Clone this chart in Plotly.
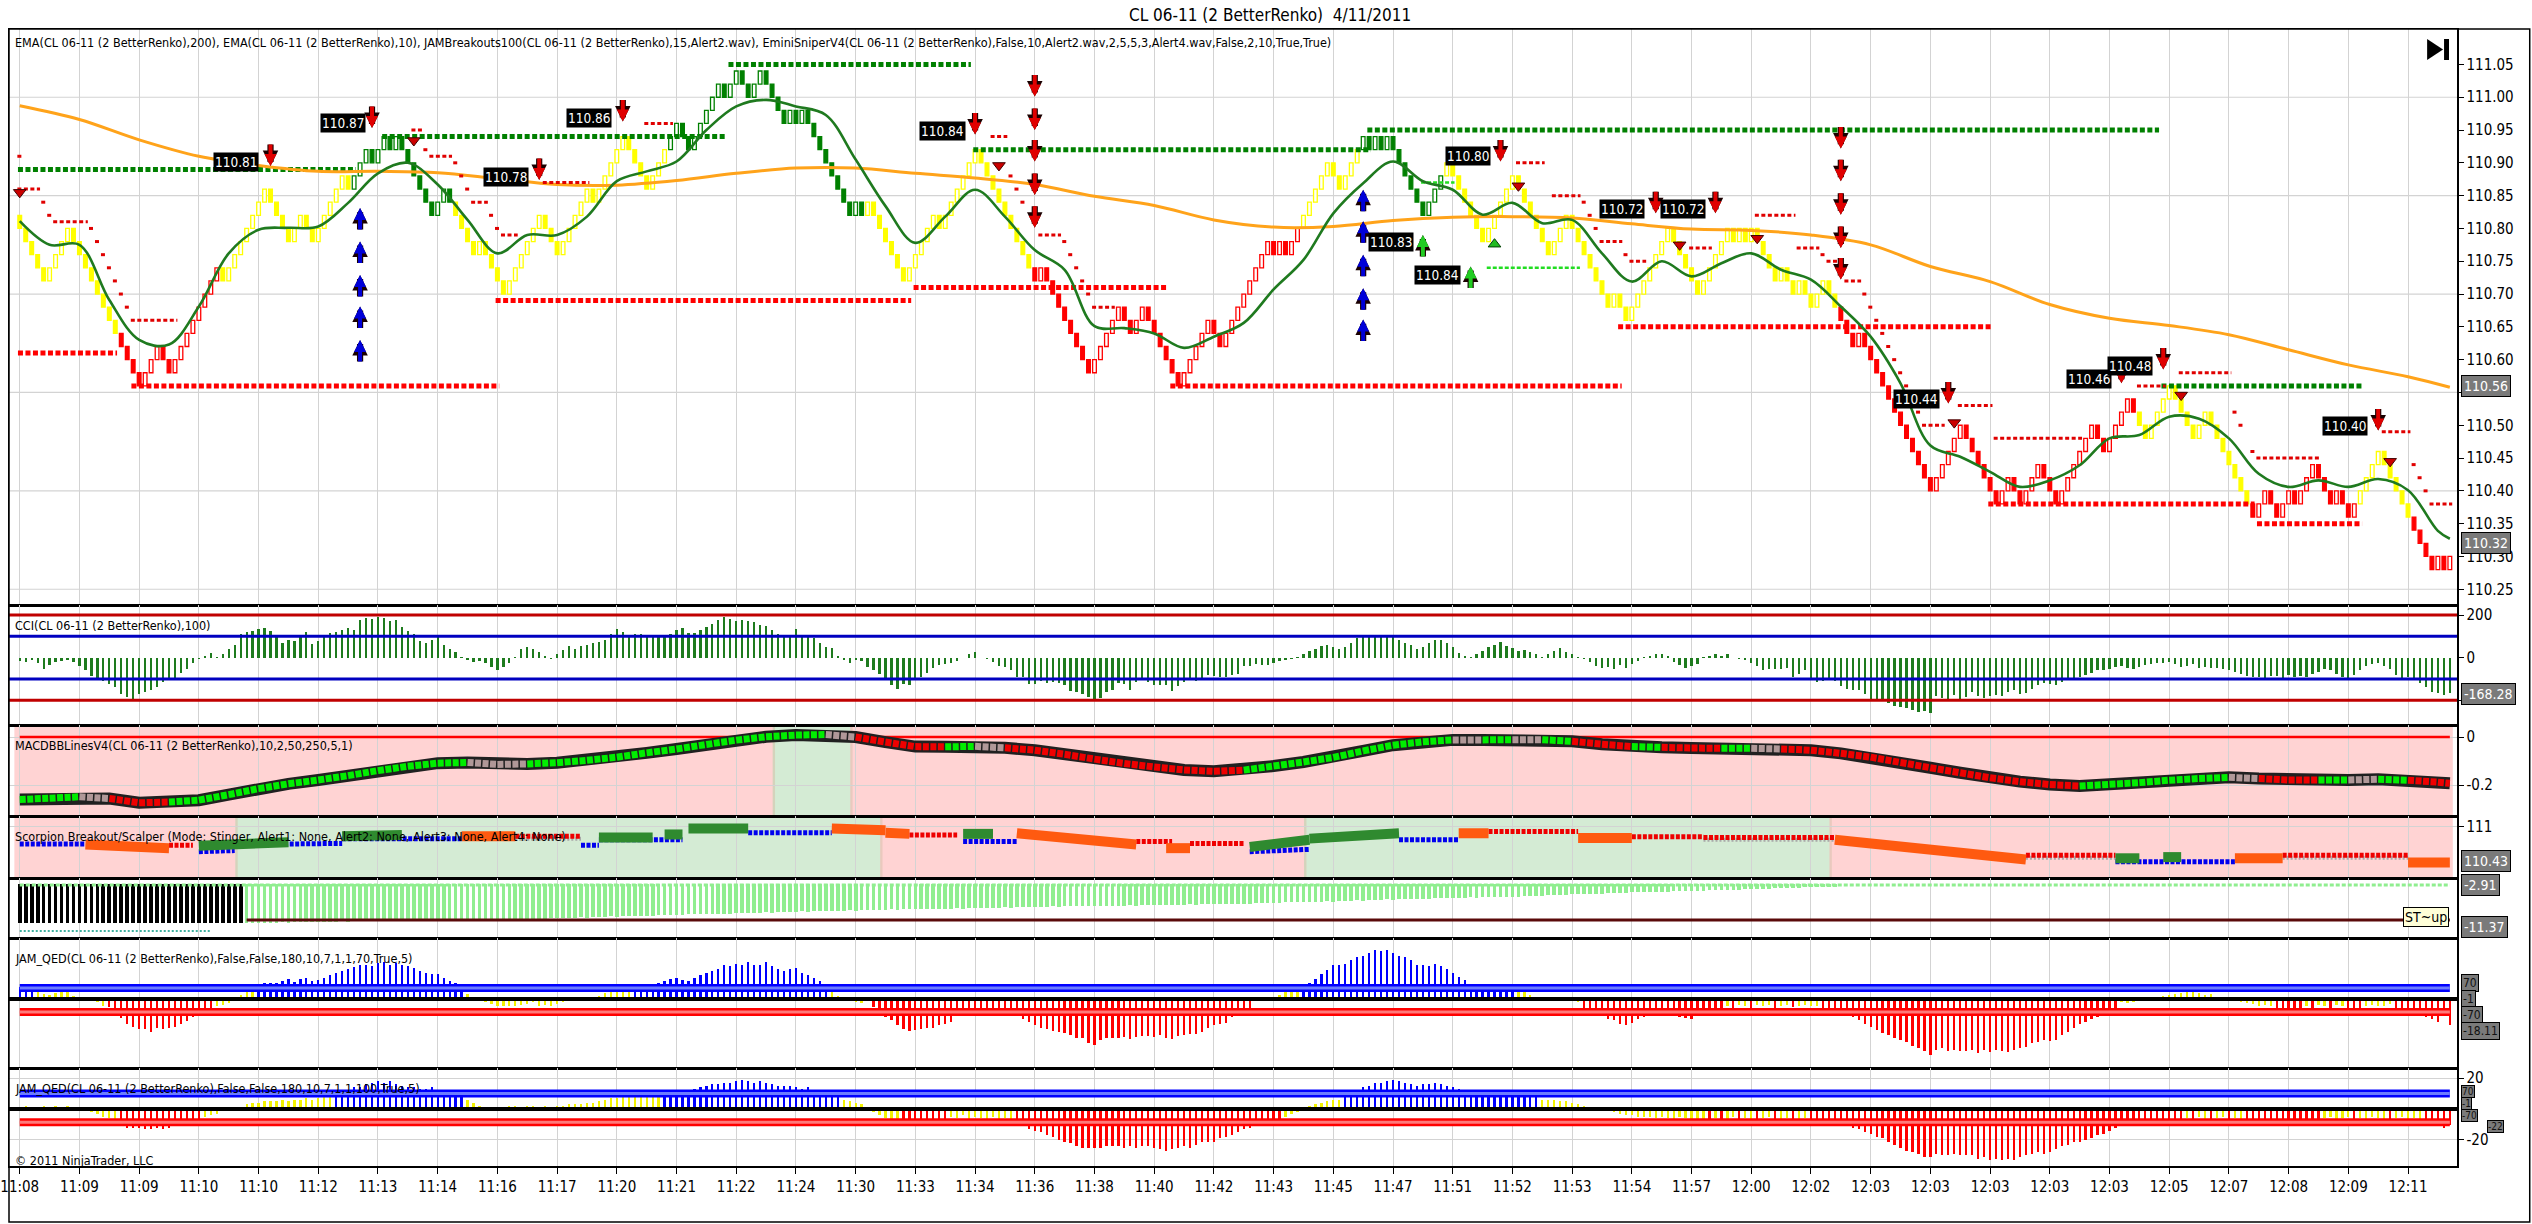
import numpy as np
import plotly.graph_objects as go

# ------------------------------------------------------------------ data
TITLE = "CL 06-11 (2 BetterRenko)  4/11/2011"
PRICE_LEGEND = ("EMA(CL 06-11 (2 BetterRenko),200), EMA(CL 06-11 (2 BetterRenko),10), "
                "JAMBreakouts100(CL 06-11 (2 BetterRenko),15,Alert2.wav), "
                "EminiSniperV4(CL 06-11 (2 BetterRenko),False,10,Alert2.wav,2,5,5,3,Alert4.wav,False,2,10,True,True)")
CCI_LABEL = "CCI(CL 06-11 (2 BetterRenko),100)"
MACD_LABEL = "MACDBBLinesV4(CL 06-11 (2 BetterRenko),10,2,50,250,5,1)"
SCORP_LABEL = "Scorpion Breakout/Scalper (Mode: Stinger, Alert1: None, Alert2: None, Alert3: None, Alert4: None)"
QED1_LABEL = "JAM_QED(CL 06-11 (2 BetterRenko),False,False,180,10,7,1,1,70,True,5)"
QED2_LABEL = "JAM_QED(CL 06-11 (2 BetterRenko),False,False,180,10,7,1,1,100,True,5)"
COPYRIGHT = "© 2011 NinjaTrader, LLC"

# one label every 10 bars, first one on bar 1
TICK_LABELS = ["11:08", "11:09", "11:09", "11:10", "11:10", "11:12", "11:13", "11:14", "11:16", "11:17",
               "11:20", "11:21", "11:22", "11:24", "11:30", "11:33", "11:34", "11:36", "11:38", "11:40",
               "11:42", "11:43", "11:45", "11:47", "11:51", "11:52", "11:53", "11:54", "11:57", "12:00",
               "12:02", "12:03", "12:03", "12:03", "12:03", "12:03", "12:05", "12:07", "12:08", "12:09",
               "12:11"]

# renko closes, cents above 110.00 (2-tick bricks)
OPEN0_CENTS = 82
CLOSE_CENTS = [
    80, 78, 76, 74, 72, 74, 76, 78, 80, 78,
    76, 74, 72, 70, 68, 66, 64, 62, 60, 58,
    56, 58, 60, 62, 60, 58, 60, 62, 64, 66,
    68, 70, 72, 74, 72, 74, 76, 78, 80, 82,
    84, 86, 84, 82, 80, 78, 80, 82, 80, 78,
    80, 82, 84, 86, 88, 86, 88, 90, 92, 90,
    92, 94, 92, 94, 92, 90, 88, 86, 84, 82,
    84, 86, 84, 82, 80, 78, 76, 78, 76, 74,
    72, 70, 72, 74, 76, 78, 80, 82, 80, 78,
    76, 78, 80, 82, 84, 86, 84, 86, 88, 90,
    92, 94, 92, 90, 88, 86, 88, 90, 92, 94,
    96, 94, 92, 94, 96, 98, 100, 102, 100, 102,
    104, 102, 100, 102, 104, 102, 100, 98, 96, 98,
    96, 98, 96, 94, 92, 90, 88, 86, 84, 82,
    84, 82, 84, 82, 80, 78, 76, 74, 72, 74,
    76, 78, 80, 82, 80, 82, 84, 86, 88, 90,
    92, 90, 88, 86, 84, 82, 80, 78, 76, 74,
    72, 74, 72, 70, 68, 66, 64, 62, 60, 58,
    60, 62, 64, 66, 68, 66, 64, 66, 68, 66,
    64, 62, 60, 58, 56, 58, 60, 62, 64, 66,
    64, 62, 64, 66, 68, 70, 72, 74, 76, 78,
    76, 78, 76, 78, 80, 82, 84, 86, 88, 90,
    88, 86, 88, 90, 92, 94, 92, 94, 92, 94,
    92, 90, 88, 86, 84, 82, 84, 86, 88, 90,
    88, 86, 84, 82, 80, 78, 80, 82, 84, 86,
    88, 86, 84, 82, 80, 78, 76, 78, 80, 82,
    80, 78, 76, 74, 72, 70, 68, 70, 68, 66,
    68, 70, 72, 74, 76, 78, 80, 78, 76, 74,
    72, 70, 72, 74, 76, 78, 80, 78, 80, 78,
    80, 78, 76, 74, 72, 74, 72, 70, 72, 70,
    68, 70, 72, 70, 68, 66, 64, 62, 64, 62,
    60, 58, 56, 54, 52, 50, 48, 46, 44, 42,
    40, 42, 44, 46, 48, 50, 48, 46, 44, 42,
    40, 38, 40, 42, 40, 38, 40, 42, 44, 42,
    40, 38, 40, 42, 44, 46, 48, 50, 48, 46,
    48, 50, 52, 54, 52, 50, 48, 50, 52, 54,
    56, 54, 52, 50, 48, 50, 52, 50, 48, 46,
    44, 42, 40, 38, 36, 38, 40, 38, 36, 38,
    40, 38, 40, 42, 44, 42, 40, 38, 40, 38,
    36, 38, 40, 42, 44, 46, 44, 42, 40, 38,
    36, 34, 32, 30, 28, 30, 28, 30,
]
# EminiSniper bar colouring: state starts at these bars
BAR_STATE_START = [1, 18, 35, 57, 74, 110, 143, 171, 216, 226, 240, 306, 356, 375, 393, 402]
BAR_STATE = ["y", "r", "y", "g", "y", "g", "y", "r", "y", "g", "y", "r", "y", "r", "y", "r"]

# EMA(10) read every 5 bars, EMA(200) every 10 bars (cents above 110.00)
EMA10_X = [1, 6, 11, 16, 21, 26, 31, 36, 41, 46, 51, 56, 61, 66, 71, 76, 81, 86, 91, 96,
           101, 106, 111, 116, 121, 126, 131, 136, 141, 146, 151, 156, 161, 166, 171, 176, 181, 186, 191, 196,
           201, 206, 211, 216, 221, 226, 231, 236, 241, 246, 251, 256, 261, 266, 271, 276, 281, 286, 291, 296,
           301, 306, 311, 316, 321, 326, 331, 336, 341, 346, 351, 356, 361, 366, 371, 376, 381, 386, 391, 396,
           401, 406, 408]
EMA10_C = [81.1, 77.5, 77.5, 69.1, 63.0, 62.3, 68.1, 76.2, 79.8, 80.1, 80.3, 83.9, 88.4, 90.0, 86.7, 81.3, 76.2, 79.0, 79.0, 81.8,
           87.2, 88.7, 90.2, 95.0, 98.6, 99.6, 98.6, 97.3, 90.5, 83.4, 77.8, 81.8, 85.9, 81.8, 76.7, 73.7, 65.1, 64.8, 64.0, 61.8,
           63.5, 65.6, 70.7, 75.2, 82.3, 86.9, 90.2, 87.2, 85.9, 82.1, 83.9, 80.8, 81.3, 76.2, 71.9, 75.0, 72.7, 74.7, 76.2, 73.7,
           72.2, 68.1, 63.5, 56.4, 46.9, 45.2, 42.9, 40.6, 41.6, 43.9, 48.0, 48.5, 51.3, 51.0, 48.0, 42.6, 40.6, 41.6, 40.6, 41.8,
           40.1, 33.9, 32.7]
EMA200_X = [1, 11, 21, 31, 41, 51, 61, 71, 81, 91, 101, 111, 121, 131, 141, 151, 161, 171, 181, 191,
            201, 211, 221, 231, 241, 251, 261, 271, 281, 291, 301, 311, 321, 331, 341, 351, 361, 371, 381, 391,
            401, 408]
EMA200_C = [98.7, 96.6, 93.5, 91.0, 89.6, 88.7, 88.7, 88.5, 87.6, 86.7, 86.6, 87.3, 88.4, 89.2, 89.2, 88.4, 87.7, 86.7, 84.9, 83.5,
            81.3, 80.2, 80.3, 81.2, 81.7, 81.8, 81.6, 80.7, 79.9, 79.7, 79.0, 77.5, 74.2, 71.9, 68.4, 66.3, 65.2, 63.8, 61.5, 59.2,
            57.4, 55.8]

# JAMBreakouts dotted levels
LEVEL_START = [1, 62, 120, 161, 227, 360, 1, 20, 81, 151, 194, 269, 331, 376]
LEVEL_END = [57, 119, 160, 227, 359, 393, 17, 81, 150, 193, 269, 331, 375, 393]
LEVEL_CENTS = [89, 94, 105, 92, 95, 56, 61, 56, 69, 71, 56, 65, 38, 35]
LEVEL_KIND = ["g", "g", "g", "g", "g", "g", "r", "r", "r", "r", "r", "r", "r", "r"]
GREEN_DASH_START = [236, 247]
GREEN_DASH_END = [241, 262]
GREEN_DASH_CENTS = [87, 74]

# trailing stop dashes
STOP_START = [1, 1, 5, 6, 7, 13, 14, 15, 16, 17, 18, 19, 20, 67, 69, 70, 74, 75, 76, 77, 80, 81, 82, 89, 106,
              164, 167, 168, 169, 172, 176, 177, 178, 179, 180, 181, 252, 258, 263, 264, 265, 266, 270, 271, 281,
              292, 299, 303, 304, 307, 310, 311, 312, 313, 314, 315, 316, 317, 318, 319, 320, 326, 332, 356, 363,
              372, 373, 375, 376, 397, 402, 403, 404, 405]
STOP_END = [1, 4, 5, 6, 12, 13, 14, 15, 16, 17, 18, 19, 27, 68, 69, 73, 74, 75, 76, 79, 80, 81, 84, 96, 110,
            166, 167, 168, 169, 175, 176, 177, 178, 179, 180, 184, 256, 262, 263, 264, 265, 269, 270, 273, 284,
            298, 302, 303, 305, 309, 310, 311, 312, 313, 314, 315, 316, 317, 318, 319, 323, 331, 346, 360, 371,
            372, 373, 375, 386, 401, 402, 403, 404, 408]
STOP_CENTS = [91, 86, 84, 82, 81, 80, 78, 76, 74, 72, 70, 68, 66, 95, 92, 91, 90, 88, 86, 84, 82, 80, 79, 87, 96,
              94, 88, 86, 84, 79, 78, 76, 74, 72, 70, 68, 90, 85, 84, 82, 80, 78, 76, 75, 77,
              82, 77, 76, 75, 72, 70, 68, 66, 64, 62, 60, 58, 56, 54, 52, 50, 53, 48, 56, 58,
              52, 50, 46, 45, 49, 44, 42, 40, 38]

# signal arrows (tip price in cents)
RED_ARROW_X = [43, 60, 88, 102, 161, 171, 171, 171, 171, 171, 249, 275, 285,
               306, 306, 306, 306, 306, 324, 353, 360, 396]
RED_ARROW_TIP = [89.5, 95.3, 87.4, 96.3, 94.3, 100.1, 95.0, 90.2, 85.1, 80.1, 90.2, 82.3, 82.3,
                 92.2, 87.2, 82.1, 77.0, 72.2, 53.3, 56.4, 58.5, 49.2]
BLUE_ARROW_X = [58, 58, 58, 58, 58, 226, 226, 226, 226, 226]
BLUE_ARROW_TIP = [83.1, 78.0, 72.9, 68.1, 63.0, 85.9, 81.1, 76.0, 70.9, 66.1]
GREEN_ARROW_X = [236, 244]
GREEN_ARROW_TIP = [79.0, 74.2]
LABEL_TEXT = ["110.81", "110.87", "110.78", "110.86", "110.84", "110.83", "110.84", "110.80",
              "110.72", "110.72", "110.44", "110.46", "110.48", "110.40"]
LABEL_X = [37.2, 55.2, 82.4, 96.3, 155.5, 230.7, 238.5, 243.6, 269.4, 279.5, 318.6, 347.5, 354.5, 390.5]
LABEL_C = [90.1, 96.1, 87.9, 96.9, 94.9, 78.0, 72.9, 91.0, 83.0, 83.0, 54.0, 57.0, 59.0, 49.9]
TRI_DOWN_X = [1, 67, 165, 252, 279, 292, 325, 363, 398]
TRI_DOWN_C = [85.5, 93.4, 89.6, 86.5, 77.5, 78.5, 50.4, 54.6, 44.5]
TRI_UP_X = [248]
TRI_UP_C = [77.6]

# CCI(100), one value per bar
CCI = [
    -15, -20, -10, -25, -55, -35, -20, -15, -10, -20,
    -40, -60, -85, -95, -110, -125, -140, -170, -185, -195,
    -170, -160, -150, -140, -115, -105, -100, -70, -55, -25,
    -5, 10, 20, 5, 15, 40, 60, 110, 120, 125,
    135, 140, 125, 100, 70, 85, 80, 95, 120, 65,
    80, 105, 115, 120, 130, 140, 130, 175, 185, 180,
    190, 185, 170, 175, 145, 125, 110, 80, 70, 85,
    95, 60, 40, 25, 5, -10, -20, -15, -25, -45,
    -60, -45, -25, 5, 40, 50, 40, 25, 10, -5,
    15, 35, 55, 40, 55, 60, 70, 75, 85, 110,
    135, 120, 105, 110, 110, 100, 95, 100, 105, 110,
    130, 140, 115, 115, 130, 145, 160, 175, 190, 180,
    170, 175, 170, 165, 155, 150, 130, 110, 100, 105,
    135, 100, 95, 90, 70, 50, 45, 10, -10, -25,
    -10, -15, -45, -60, -75, -100, -130, -145, -125, -130,
    -100, -90, -70, -50, -35, -30, -25, -15, 0, 15,
    25, 0, -5, -20, -40, -45, -60, -90, -90, -125,
    -125, -110, -120, -115, -120, -130, -155, -160, -170, -185,
    -200, -190, -160, -150, -120, -125, -150, -115, -100, -115,
    -130, -130, -130, -155, -135, -115, -105, -110, -100, -80,
    -85, -90, -90, -80, -75, -40, -40, -30, -35, -35,
    -25, -15, -10, -5, 5, 15, 30, 40, 55, 60,
    50, 40, 50, 70, 90, 100, 100, 100, 95, 100,
    95, 85, 70, 60, 40, 50, 70, 85, 85, 70,
    50, 20, 10, 5, 15, 30, 50, 60, 75, 55,
    45, 30, 35, 25, 15, 5, 15, 30, 45, 25,
    15, 5, -5, -20, -40, -50, -45, -55, -35, -50,
    -30, -15, 5, 10, 15, 15, 10, -20, -35, -50,
    -40, -30, 5, 10, 15, 10, 15, 0, -5, -10,
    -25, -40, -60, -55, -55, -55, -50, -90, -75, -60,
    -105, -115, -110, -105, -110, -135, -145, -150, -150, -170,
    -195, -205, -205, -215, -225, -230, -235, -245, -255, -250,
    -260, -180, -190, -195, -175, -200, -185, -160, -180, -190,
    -180, -175, -180, -160, -150, -170, -165, -145, -130, -120,
    -125, -130, -115, -95, -95, -90, -80, -70, -60, -60,
    -55, -45, -40, -50, -55, -45, -35, -30, -25, -25,
    -20, -30, -45, -40, -30, -50, -45, -50, -50, -55,
    -60, -65, -75, -85, -90, -90, -95, -85, -85, -95,
    -80, -90, -85, -90, -75, -65, -55, -60, -75, -90,
    -95, -80, -60, -40, -30, -25, -40, -55, -80, -95,
    -90, -105, -120, -140, -160, -165, -175, -168,
]

# MACDBBLines read every 5 bars, dot colour per sample (g up, r down, n neutral)
MACD_X = EMA10_X
MACD = [-0.260, -0.255, -0.249, -0.256, -0.274, -0.271, -0.263, -0.240, -0.215, -0.195,
        -0.179, -0.161, -0.140, -0.122, -0.109, -0.106, -0.114, -0.112, -0.107, -0.097,
        -0.084, -0.066, -0.050, -0.031, -0.013, 0.001, 0.008, 0.010, 0.000, -0.021,
        -0.040, -0.041, -0.039, -0.045, -0.055, -0.072, -0.092, -0.110, -0.125, -0.137,
        -0.143, -0.138, -0.121, -0.104, -0.085, -0.058, -0.034, -0.020, -0.012, -0.012,
        -0.011, -0.011, -0.018, -0.030, -0.040, -0.043, -0.046, -0.047, -0.047, -0.050,
        -0.055, -0.068, -0.084, -0.106, -0.128, -0.149, -0.170, -0.186, -0.198, -0.204,
        -0.197, -0.190, -0.180, -0.173, -0.168, -0.173, -0.179, -0.179, -0.179, -0.176,
        -0.180, -0.188, -0.193]
MACD_COLOR = ("ggnrrggggg" "gggggnnggg" "gggggggnrr" "rgnrrrrrrr" "rgggggggng"
              "ngrrgrrgnr" "rrrrrrrrrg" "ggggnrrgng" "rrr")
MACD_BG_START = [1, 128, 141]
MACD_BG_END = [128, 141, 409]
MACD_BG = ["p", "g", "p"]

# Scorpion breakout/scalper pieces (b blue, r red, o orange, g green, n grey)
SCORP_KIND = ["b"] * 11 + ["r"] * 10 + ["o"] * 11 + ["g"] * 10 + ["n"] * 4
SCORP_START = [1, 31, 37, 55, 95, 98, 123, 159, 207, 232, 352,
               26, 84, 150, 188, 197, 247, 271, 283, 337, 380,
               12, 75, 137, 146, 168, 193, 242, 262, 305, 372, 401,
               31, 55, 98, 109, 113, 159, 207, 217, 352, 360,
               283, 337, 380, 84]
SCORP_END = [12, 37, 55, 75, 98, 112, 137, 168, 217, 242, 372,
             30, 95, 158, 194, 206, 262, 283, 305, 352, 401,
             26, 84, 146, 150, 188, 197, 247, 271, 337, 380, 408,
             46, 65, 107, 112, 123, 164, 217, 232, 356, 363,
             305, 352, 401, 95]
SCORP_Y0 = [110.71, 110.58, 110.70, 110.80, 110.69, 110.78, 110.90, 110.75, 110.58, 110.78, 110.41,
            110.69, 110.84, 110.86, 110.75, 110.72, 110.92, 110.83, 110.82, 110.52, 110.52,
            110.70, 110.84, 110.97, 110.90, 110.89, 110.64, 110.89, 110.81, 110.78, 110.47, 110.40,
            110.68, 110.84, 110.82, 110.87, 110.97, 110.88, 110.66, 110.80, 110.47, 110.49,
            110.78, 110.48, 110.48, 110.80]
SCORP_Y1 = [110.71, 110.60, 110.72, 110.80, 110.69, 110.78, 110.90, 110.75, 110.62, 110.78, 110.41,
            110.69, 110.84, 110.86, 110.75, 110.72, 110.92, 110.83, 110.82, 110.52, 110.52,
            110.64, 110.84, 110.94, 110.88, 110.70, 110.64, 110.89, 110.81, 110.45, 110.47, 110.40,
            110.74, 110.86, 110.82, 110.87, 110.97, 110.88, 110.78, 110.89, 110.47, 110.49,
            110.78, 110.48, 110.48, 110.80]
SCORP_BG_START = [1, 38, 146, 217, 305]
SCORP_BG_END = [38, 146, 217, 305, 409]
SCORP_BG = ["p", "g", "p", "g", "p"]

# spike panel: bars hang from the top value down to these lows (bars 1-305)
SPIKE_TOP = -2.7
SPIKE_BLACK_UNTIL = 38
SPIKE_LOW = [
    -12.1, -12.1, -12.1, -12.1, -12.1, -12.1, -12.1, -12.1, -12.1, -12.1,
    -12.1, -12.1, -12.1, -12.1, -12.1, -12.1, -12.1, -12.1, -12.1, -12.1,
    -12.1, -12.1, -12.1, -12.1, -12.1, -12.1, -12.1, -12.1, -12.1, -12.1,
    -12.1, -12.1, -12.1, -12.1, -12.1, -12.1, -12.1, -12.1, -12.1, -12.1,
    -12.0, -12.1, -12.0, -12.0, -11.9, -12.0, -11.9, -11.9, -11.9, -11.8,
    -11.9, -11.8, -11.8, -11.8, -11.7, -11.8, -11.7, -11.7, -11.7, -11.6,
    -11.7, -11.6, -11.6, -11.6, -11.5, -11.6, -11.5, -11.5, -11.5, -11.4,
    -11.5, -11.4, -11.4, -11.3, -11.4, -11.3, -11.3, -11.2, -11.3, -11.2,
    -11.2, -11.1, -11.2, -11.1, -11.1, -11.0, -11.1, -11.0, -11.0, -10.9,
    -10.9, -10.8, -10.9, -10.8, -10.7, -10.8, -10.7, -10.6, -10.6, -10.5,
    -10.6, -10.5, -10.4, -10.4, -10.3, -10.4, -10.3, -10.2, -10.2, -10.1,
    -10.2, -10.1, -10.0, -10.0, -9.9, -10.0, -9.9, -9.8, -9.8, -9.8,
    -9.7, -9.7, -9.6, -9.7, -9.6, -9.5, -9.6, -9.5, -9.4, -9.5,
    -9.4, -9.3, -9.4, -9.3, -9.2, -9.3, -9.2, -9.1, -9.1, -9.0,
    -9.1, -9.0, -8.9, -9.0, -8.9, -8.9, -8.8, -8.9, -8.8, -8.7,
    -8.8, -8.7, -8.7, -8.6, -8.7, -8.6, -8.6, -8.5, -8.6, -8.5,
    -8.5, -8.4, -8.5, -8.4, -8.4, -8.3, -8.4, -8.3, -8.3, -8.2,
    -8.3, -8.2, -8.2, -8.1, -8.2, -8.1, -8.1, -8.0, -8.1, -8.0,
    -8.0, -7.9, -8.0, -7.9, -7.9, -7.9, -7.8, -7.9, -7.8, -7.8,
    -7.8, -7.7, -7.8, -7.7, -7.7, -7.7, -7.6, -7.7, -7.6, -7.6,
    -7.5, -7.6, -7.5, -7.5, -7.4, -7.5, -7.4, -7.3, -7.3, -7.2,
    -7.3, -7.2, -7.1, -7.1, -7.0, -7.1, -7.0, -6.9, -6.9, -6.8,
    -6.9, -6.8, -6.7, -6.7, -6.6, -6.7, -6.6, -6.5, -6.5, -6.4,
    -6.5, -6.4, -6.3, -6.3, -6.2, -6.3, -6.2, -6.1, -6.1, -6.1,
    -6.0, -6.1, -6.0, -5.9, -6.0, -5.9, -5.9, -5.8, -5.8, -5.8,
    -5.7, -5.7, -5.6, -5.6, -5.5, -5.5, -5.4, -5.4, -5.3, -5.3,
    -5.2, -5.2, -5.1, -5.1, -5.0, -5.0, -4.9, -4.9, -4.8, -4.8,
    -4.7, -4.7, -4.6, -4.6, -4.5, -4.5, -4.5, -4.4, -4.4, -4.4,
    -4.3, -4.3, -4.3, -4.2, -4.2, -4.1, -4.1, -4.0, -4.0, -3.9,
    -3.9, -3.8, -3.8, -3.8, -3.7, -3.7, -3.6, -3.6, -3.6, -3.5,
    -3.5, -3.4, -3.4, -3.3, -3.3,
]
SPIKE_LEVEL = -2.91
SPIKE_LINE = -11.37
SPIKE_TEAL = -14.0
SPIKE_TEAL_END = 33

# JAM_QED histograms, one value per bar
QED1 = [
    73, 75, 72, 40, 30, 25, 35, 40, 45, 20,
    5, 0, -10, -20, -40, -50, -75, -115, -150, -170,
    -185, -185, -200, -180, -185, -175, -170, -150, -135, -110,
    -80, -65, -60, -45, -35, -25, -10, 25, 45, 60,
    75, 100, 100, 95, 110, 120, 105, 120, 130, 110,
    115, 130, 145, 160, 170, 185, 195, 205, 210, 200,
    220, 225, 210, 220, 205, 200, 190, 170, 160, 150,
    155, 130, 110, 95, 80, 30, 15, 5, -20, -30,
    -45, -40, -45, -40, -35, -30, -20, -40, -35, -40,
    -30, -20, -15, -5, 0, 10, 15, 20, 35, 60,
    70, 65, 70, 75, 75, 80, 90, 100, 110, 120,
    125, 115, 110, 130, 145, 160, 170, 185, 205, 200,
    215, 210, 225, 205, 210, 225, 200, 180, 170, 180,
    190, 160, 145, 125, 110, 85, 40, 20, 10, 0,
    -20, -25, -15, -50, -85, -110, -130, -160, -185, -195,
    -190, -185, -180, -175, -160, -150, -140, -100, -80, -60,
    -55, -60, -55, -60, -60, -55, -75, -100, -125, -140,
    -160, -175, -185, -195, -200, -210, -220, -235, -240, -270,
    -280, -250, -240, -235, -240, -230, -245, -230, -225, -225,
    -230, -220, -240, -245, -225, -220, -215, -215, -200, -175,
    -160, -150, -145, -110, -90, -70, -60, -15, -5, 5,
    10, 25, 40, 55, 60, 72, 100, 120, 150, 175,
    205, 205, 215, 235, 255, 260, 280, 300, 290, 300,
    280, 265, 255, 235, 205, 210, 200, 215, 200, 180,
    160, 135, 115, 80, 85, 75, 80, 85, 90, 80,
    72, 50, 40, 25, 10, 5, 0, -5, 0, -10,
    -15, -20, -55, -60, -80, -100, -120, -130, -150, -160,
    -145, -120, -110, -100, -95, -85, -80, -100, -110, -115,
    -120, -105, -90, -70, -65, -60, -40, -55, -35, -40,
    -55, -35, -45, -35, -55, -40, -35, -50, -40, -35,
    -45, -40, -55, -60, -60, -90, -100, -110, -130, -150,
    -170, -190, -210, -220, -240, -250, -260, -285, -300, -320,
    -340, -310, -300, -320, -310, -315, -320, -310, -330, -310,
    -325, -310, -320, -325, -310, -300, -290, -270, -260, -250,
    -255, -250, -220, -200, -180, -150, -140, -120, -110, -100,
    -70, -60, -20, -25, -20, -15, -5, 5, 10, 20,
    25, 30, 35, 50, 40, 35, 25, 30, 15, 10,
    5, -10, -20, -25, -30, -45, -35, -40, -55, -60,
    -55, -60, -55, -40, -55, -35, -40, -55, -35, -40,
    -60, -55, -60, -40, -35, -45, -40, -30, -60, -55,
    -60, -65, -90, -110, -120, -140, -100, -160,
]
QED2 = [
    1, 2, 1, 0, 2, 1, 2, 1, 2, 1,
    0, 0, -2, -3, -5, -6, -8, -10, -12, -12,
    -12, -13, -13, -12, -13, -12, -11, -10, -9, -9,
    -9, -5, -4, -3, -1, 0, 0, 1, 3, 4,
    4, 5, 5, 5, 6, 5, 6, 6, 7, 6,
    7, 8, 8, 9, 10, 12, 14, 14, 16, 17,
    18, 17, 18, 16, 15, 14, 14, 13, 13, 14,
    12, 11, 10, 10, 9, 6, 4, 2, 1, 1,
    1, 1, 2, 2, 1, 2, 2, 1, 2, 1,
    2, 2, 3, 3, 3, 4, 4, 5, 6, 7,
    7, 8, 8, 8, 8, 8, 8, 8, 10, 10,
    11, 11, 12, 13, 14, 15, 16, 16, 17, 17,
    18, 19, 18, 17, 18, 17, 16, 15, 15, 15,
    14, 13, 14, 12, 11, 10, 9, 9, 6, 5,
    4, 3, 1, -2, -4, -6, -7, -8, -9, -10,
    -10, -9, -10, -9, -9, -10, -5, -6, -4, -7,
    -5, -6, -8, -5, -7, -6, -8, -10, -11, -13,
    -14, -15, -17, -18, -20, -21, -22, -24, -25, -25,
    -25, -25, -24, -24, -24, -25, -24, -25, -24, -24,
    -25, -26, -27, -26, -25, -24, -25, -23, -21, -21,
    -21, -19, -18, -17, -15, -13, -12, -10, -9, -9,
    -9, -9, -5, -3, -2, 1, 2, 3, 4, 5,
    6, 6, 9, 11, 12, 14, 15, 17, 17, 18,
    19, 18, 17, 16, 15, 16, 16, 17, 16, 15,
    14, 13, 12, 11, 11, 11, 11, 11, 12, 11,
    11, 10, 10, 10, 9, 6, 6, 6, 5, 5,
    4, 3, 2, 0, 0, 1, 0, -2, -3, -4,
    -4, -5, -5, -5, -6, -5, -6, -7, -5, -6,
    -7, -8, -7, -9, -6, -9, -7, -5, -9, -6,
    -7, -9, -6, -5, -9, -7, -6, -9, -7, -6,
    -9, -9, -9, -9, -10, -10, -11, -12, -13, -15,
    -16, -18, -19, -21, -23, -25, -27, -28, -29, -31,
    -31, -29, -30, -30, -29, -30, -30, -30, -32, -31,
    -33, -32, -33, -32, -33, -31, -30, -29, -28, -29,
    -28, -26, -24, -23, -21, -21, -20, -19, -17, -16,
    -14, -12, -11, -11, -10, -9, -9, -9, -9, -10,
    -9, -9, -9, -6, -9, -5, -7, -9, -6, -5,
    -9, -6, -7, -9, -9, -10, -9, -9, -10, -9,
    -9, -10, -9, -9, -10, -9, -6, -5, -7, -6,
    -5, -9, -6, -7, -5, -6, -7, -9, -6, -5,
    -7, -6, -8, -9, -10, -11, -12, -10,
]
QED1_BANDS = [67, -79]
QED2_BANDS = [10, -8.5]

# last-value tags on the right scale: (text, axis value)
PRICE_TAGS = [("110.56", 110.56), ("110.32", 110.32)]
QED1_TAGS = [("70", 100), ("-1", 0), ("-70", -98), ("-18.11", -196)]
QED2_TAGS = [("70", 11.5), ("-1", 3.5), ("-70", -4.5), ("-22", -11.5)]

# ------------------------------------------------------------------ layout helpers
W, H = 2532, 1224
PANEL_PX = [29, 605, 725, 816, 878, 938, 1068, 1166]   # panel edges, page pixels
PLOT_RIGHT = 2457
PLOT_H = PANEL_PX[-1] - PANEL_PX[0]
X_RANGE = [-0.8, 409.2]
FONT = "Liberation Sans Narrow, Arial Narrow, DejaVu Sans Condensed, Liberation Sans, sans-serif"
GRID = "#D3D3D3"
PINK, PALEGREEN = "rgba(255,170,170,0.52)", "rgba(160,210,160,0.45)"


def py(px):
    return (PANEL_PX[-1] - px) / PLOT_H


def pxx(px):
    return px / PLOT_RIGHT


def hsegs(starts, ends, vals, pad):
    xs, ys = [], []
    for s, e, v in zip(starts, ends, vals):
        xs += [s - pad, e + pad, None]
        ys += [v, v, None]
    return xs, ys


def cents(c):
    return 110 + np.asarray(c, dtype=float) / 100


n = len(CLOSE_CENTS)
bars = np.arange(1, n + 1)
close = cents(CLOSE_CENTS)
open_ = np.concatenate([[cents(OPEN0_CENTS)], close[:-1]])

state = np.empty(n, dtype=object)
for s, c in zip(BAR_STATE_START, BAR_STATE):
    state[s - 1:] = c
STATE_COLOR = {"y": "#FFFF00", "r": "#FF0000", "g": "#008000"}
edge = [STATE_COLOR[s] for s in state]
fill = [e if c < o else "white" for e, c, o in zip(edge, close, open_)]

fig = go.Figure()

# ------------------------------------------------------------------ price panel
fig.add_trace(go.Bar(x=bars, y=close - open_, base=open_, width=0.62,
                     marker=dict(color=fill, line=dict(color=edge, width=1.3)),
                     xaxis="x", yaxis="y", hoverinfo="skip"))

for kind, col in (("g", "#008000"), ("r", "#FF0000")):
    idx = [i for i, k in enumerate(LEVEL_KIND) if k == kind]
    xs, ys = hsegs([LEVEL_START[i] for i in idx], [LEVEL_END[i] for i in idx],
                   cents([LEVEL_CENTS[i] for i in idx]), 0.3)
    fig.add_trace(go.Scatter(x=xs, y=ys, mode="lines", xaxis="x", yaxis="y",
                             line=dict(color=col, width=5, dash="5px,2.5px"), hoverinfo="skip"))

xs, ys = hsegs(GREEN_DASH_START, GREEN_DASH_END, cents(GREEN_DASH_CENTS), 0.3)
fig.add_trace(go.Scatter(x=xs, y=ys, mode="lines", xaxis="x", yaxis="y",
                         line=dict(color="#22DD22", width=2.5, dash="4px,2px"), hoverinfo="skip"))

fig.add_trace(go.Scatter(x=EMA200_X, y=cents(EMA200_C), mode="lines", xaxis="x", yaxis="y",
                         line=dict(color="#FFA31A", width=3, shape="spline"), hoverinfo="skip"))
fig.add_trace(go.Scatter(x=EMA10_X, y=cents(EMA10_C), mode="lines", xaxis="x", yaxis="y",
                         line=dict(color="#1F7A1F", width=2.6, shape="spline"), hoverinfo="skip"))

xs, ys = hsegs(STOP_START, STOP_END, cents(STOP_CENTS), 0.4)
fig.add_trace(go.Scatter(x=xs, y=ys, mode="lines", xaxis="x", yaxis="y",
                         line=dict(color="#E00000", width=3, dash="4px,2.5px"), hoverinfo="skip"))

fig.add_trace(go.Scatter(x=TRI_DOWN_X, y=cents(TRI_DOWN_C), mode="markers", xaxis="x", yaxis="y",
                         marker=dict(symbol="triangle-down", size=11, color="#CC0000",
                                     line=dict(color="#400000", width=1)), hoverinfo="skip"))
fig.add_trace(go.Scatter(x=TRI_UP_X, y=cents(TRI_UP_C), mode="markers", xaxis="x", yaxis="y",
                         marker=dict(symbol="triangle-up", size=11, color="#22BB22",
                                     line=dict(color="#004000", width=1)), hoverinfo="skip"))

# ------------------------------------------------------------------ CCI panel
fig.add_trace(go.Bar(x=bars, y=CCI, width=0.38, marker=dict(color="#1E7B1E", line=dict(width=0)),
                     xaxis="x2", yaxis="y2", hoverinfo="skip"))
for lvl, col in ((200, "#C00000"), (-200, "#C00000"), (100, "#0000C0"), (-100, "#0000C0")):
    fig.add_trace(go.Scatter(x=X_RANGE, y=[lvl, lvl], mode="lines", xaxis="x2", yaxis="y2",
                             line=dict(color=col, width=3), hoverinfo="skip"))

# ------------------------------------------------------------------ MACD panel
fig.add_trace(go.Scatter(x=[1, n], y=[0, 0], mode="lines", xaxis="x3", yaxis="y3",
                         line=dict(color="#FF0000", width=2.5), hoverinfo="skip"))
fig.add_trace(go.Scatter(x=MACD_X, y=MACD, mode="lines", xaxis="x3", yaxis="y3",
                         line=dict(color="#202020", width=12), hoverinfo="skip"))
MACD_COLORS = {"g": "#00EE00", "r": "#EE0000", "n": "#B09898"}
for key, col in MACD_COLORS.items():
    xs, ys = [], []
    for k in range(len(MACD_X) - 1):
        if MACD_COLOR[k] == key:
            xs += [MACD_X[k], MACD_X[k + 1], None]
            ys += [MACD[k], MACD[k + 1], None]
    fig.add_trace(go.Scatter(x=xs, y=ys, mode="lines", xaxis="x3", yaxis="y3",
                             line=dict(color=col, width=7, dash="6px,1.5px"), hoverinfo="skip"))

# ------------------------------------------------------------------ Scorpion panel
SCORP_STYLE = {
    "n": dict(color="#A8A8A8", width=4, dash="2px,2px"),
    "b": dict(color="#0000EE", width=5, dash="4px,1.5px"),
    "r": dict(color="#EE0000", width=5, dash="4px,1.5px"),
    "o": dict(color="#FF5A10", width=10),
    "g": dict(color="#2F8A2F", width=10),
}
for key in ("n", "b", "r", "o", "g"):
    xs, ys = [], []
    for k, s, e, y0, y1 in zip(SCORP_KIND, SCORP_START, SCORP_END, SCORP_Y0, SCORP_Y1):
        if k == key:
            xs += [s, e, None]
            ys += [y0, y1, None]
    fig.add_trace(go.Scatter(x=xs, y=ys, mode="lines", xaxis="x4", yaxis="y4",
                             line=SCORP_STYLE[key], hoverinfo="skip"))

# ------------------------------------------------------------------ spike panel
spike_x = np.arange(1, len(SPIKE_LOW) + 1)
spike_col = ["#000000" if b <= SPIKE_BLACK_UNTIL else "#90EE90" for b in spike_x]
fig.add_trace(go.Bar(x=spike_x, y=np.array(SPIKE_LOW) - SPIKE_TOP, base=SPIKE_TOP, width=0.62,
                     marker=dict(color=spike_col, line=dict(width=0)),
                     xaxis="x5", yaxis="y5", hoverinfo="skip"))
fig.add_trace(go.Scatter(x=[1, n], y=[SPIKE_LEVEL, SPIKE_LEVEL], mode="lines", xaxis="x5", yaxis="y5",
                         line=dict(color="#90EE90", width=3, dash="4px,2px"), hoverinfo="skip"))
fig.add_trace(go.Scatter(x=[SPIKE_BLACK_UNTIL + 1, n], y=[SPIKE_LINE, SPIKE_LINE], mode="lines",
                         xaxis="x5", yaxis="y5", line=dict(color="#5A0A0A", width=3), hoverinfo="skip"))
fig.add_trace(go.Scatter(x=[1, SPIKE_TEAL_END], y=[SPIKE_TEAL, SPIKE_TEAL], mode="lines", xaxis="x5",
                         yaxis="y5", line=dict(color="#40B0A0", width=2, dash="2px,2px"), hoverinfo="skip"))


# ------------------------------------------------------------------ QED panels
def qed_panel(vals, bands, blue_min, red_max, xa, ya):
    cols = ["#0000FF" if v > blue_min else "#FF0000" if v <= red_max else "#F2F200" for v in vals]
    top, bot = bands
    for lvl, outer, inner in ((top, "#0000FF", "#6C7CFF"), (bot, "#FF0000", "#FF7A7A")):
        fig.add_trace(go.Scatter(x=[1, n], y=[lvl, lvl], mode="lines", xaxis=xa, yaxis=ya,
                                 line=dict(color=outer, width=8), hoverinfo="skip"))
        fig.add_trace(go.Scatter(x=[1, n], y=[lvl, lvl], mode="lines", xaxis=xa, yaxis=ya,
                                 line=dict(color=inner, width=3), hoverinfo="skip"))
    fig.add_trace(go.Bar(x=bars, y=vals, width=0.38, marker=dict(color=cols, line=dict(width=0)),
                         xaxis=xa, yaxis=ya, hoverinfo="skip"))
    fig.add_trace(go.Scatter(x=X_RANGE, y=[0, 0], mode="lines", xaxis=xa, yaxis=ya,
                             line=dict(color="black", width=4), hoverinfo="skip"))


qed_panel(QED1, QED1_BANDS, 70, -50, "x6", "y6")
qed_panel(QED2, QED2_BANDS, 8.5, -9, "x7", "y7")

# ------------------------------------------------------------------ axes
price_ticks = [round(110.25 + 0.05 * k, 2) for k in range(17)]
price_text = ["" if t == 110.55 else f"{t:.2f}" for t in price_ticks]   # hidden under the last-value tag
Y_RANGES = [[110.226, 111.104], [-316, 247], [-0.329, 0.05], [110.139, 111.18],
            [-15.71, -1.22], [-421, 372], [-36.8, 26.5]]
Y_TICKS = [price_ticks, [200, 0, -200], [0, -0.2], [111], [], [], [20, -20]]
Y_TEXT = [price_text, ["200", "0", ""], ["0", "-0.2"], ["111"], [], [], ["20", "-20"]]
Y_GRID = [False, False, True, True, False, False, True]
tick_bars = [1 + 10 * k for k in range(len(TICK_LABELS))]
tickfont = dict(family=FONT, size=15, color="black")

axes = {}
for i in range(7):
    sfx = "" if i == 0 else str(i + 1)
    dom = [py(PANEL_PX[i + 1]), py(PANEL_PX[i])]
    last = i == 6
    xa = dict(domain=[0, 1], anchor="y" + sfx, range=X_RANGE, tickvals=tick_bars, ticktext=TICK_LABELS,
              showgrid=True, gridcolor=GRID, gridwidth=1, zeroline=False,
              showline=True, linecolor="black", linewidth=1.5, mirror=True,
              showticklabels=last, ticks="outside" if last else "", ticklen=6, tickcolor="black",
              tickfont=tickfont, ticklabeloverflow="allow")
    if i > 0:
        xa["matches"] = "x"
    ya = dict(domain=dom, anchor="x" + sfx, range=Y_RANGES[i], side="right", zeroline=False,
              showline=True, linecolor="black", linewidth=1.5, mirror=True,
              ticks="outside", ticklen=5, tickcolor="black", tickfont=tickfont,
              showgrid=Y_GRID[i], gridcolor=GRID,
              tickmode="array", tickvals=Y_TICKS[i], ticktext=Y_TEXT[i])
    axes["xaxis" + sfx] = xa
    axes["yaxis" + sfx] = ya

# ------------------------------------------------------------------ shapes
shapes = []
for g in (110.25, 110.40, 110.55, 110.70, 110.85, 111.00):
    shapes.append(dict(type="line", xref="x domain", yref="y", x0=0, x1=1, y0=g, y1=g,
                       line=dict(color=GRID, width=1.2), layer="below"))
for starts, ends, kinds, yr in ((MACD_BG_START, MACD_BG_END, MACD_BG, "y3"),
                                (SCORP_BG_START, SCORP_BG_END, SCORP_BG, "y4")):
    for s, e, k in zip(starts, ends, kinds):
        shapes.append(dict(type="rect", xref="x" + yr[1:], yref=yr + " domain", x0=s - 0.9, x1=e - 0.5,
                           y0=0, y1=1, fillcolor=PINK if k == "p" else PALEGREEN,
                           line=dict(width=0), layer="below"))
# outer frame and the "jump to end" glyph
shapes.append(dict(type="rect", xref="paper", yref="paper", x0=0, x1=pxx(2530), y0=py(1222), y1=1,
                   line=dict(color="black", width=1.5)))
shapes.append(dict(type="path", xref="paper", yref="paper", fillcolor="black", line=dict(width=0),
                   path=f"M {pxx(2427)},{py(39)} L {pxx(2427)},{py(60)} L {pxx(2443)},{py(49.5)} Z"))
shapes.append(dict(type="rect", xref="paper", yref="paper", x0=pxx(2444), x1=pxx(2449),
                   y0=py(60), y1=py(39), fillcolor="black", line=dict(width=0)))

# ------------------------------------------------------------------ annotations
ann = []
text_font = dict(family=FONT, size=12.5, color="black")
for txt, ypx in ((PRICE_LEGEND, 43), (CCI_LABEL, 625), (MACD_LABEL, 745), (SCORP_LABEL, 836),
                 (QED1_LABEL, 958), (QED2_LABEL, 1088), (COPYRIGHT, 1160)):
    ann.append(dict(text=txt, xref="paper", yref="paper", x=0.0015, y=py(ypx), xanchor="left",
                    yanchor="middle", showarrow=False, font=text_font))
ann.append(dict(text=TITLE, xref="paper", yref="paper", x=pxx(1266), y=py(15), xanchor="center",
                yanchor="middle", showarrow=False, font=dict(family=FONT, size=17, color="black")))


def arrow(x, tip, color, down):
    # dark outline first, coloured arrow on top
    for col, w, size in (("#1A0000", 6.2, 0.5), (color, 4.0, 0.6)):
        ann.append(dict(x=x, y=cents(tip), xref="x", yref="y", ax=0, ay=-23 if down else 23, text="",
                        showarrow=True, arrowhead=2, arrowsize=size, arrowwidth=w, arrowcolor=col))


for x, tip in zip(RED_ARROW_X, RED_ARROW_TIP):
    arrow(x, tip, "#E00000", True)
for x, tip in zip(BLUE_ARROW_X, BLUE_ARROW_TIP):
    arrow(x, tip, "#0000D8", False)
for x, tip in zip(GREEN_ARROW_X, GREEN_ARROW_TIP):
    arrow(x, tip, "#22CC22", False)
for txt, x, c in zip(LABEL_TEXT, LABEL_X, LABEL_C):
    ann.append(dict(text=txt, x=x, y=cents(c), xref="x", yref="y", showarrow=False, bgcolor="black",
                    borderpad=1, font=dict(family=FONT, size=13.5, color="white")))


def tag(text, yref, y, yshift=0, size=14, color="white", xshift=4, pad=2):
    ann.append(dict(text=text, xref="paper", x=1, xanchor="left", xshift=xshift, yref=yref, y=y,
                    yshift=yshift, showarrow=False, bgcolor="#7A7A7A", bordercolor="black",
                    borderwidth=1, borderpad=pad, font=dict(family=FONT, size=size, color=color)))


for txt, v in PRICE_TAGS:
    tag(txt, "y", v)
tag("-168.28", "y2", -168.28)
tag("110.43", "y4", 110.43)
tag("-2.91", "y5", SPIKE_LEVEL)
tag("-11.37", "y5", SPIKE_LINE, -7)
for txt, v in QED1_TAGS:
    tag(txt, "y6", v, size=12, color="#111111", pad=1)
for k, (txt, v) in enumerate(QED2_TAGS):
    tag(txt, "y7", v, size=10, color="#111111", pad=0, xshift=30 if k == 3 else 4)
ann.append(dict(text="ST~up", x=404, y=SPIKE_LINE, xref="x5", yref="y5", yshift=3, showarrow=False,
                bgcolor="#FFFFD8", bordercolor="black", borderwidth=1, borderpad=1,
                font=dict(family=FONT, size=14, color="black")))

fig.update_layout(
    width=W, height=H,
    margin=dict(l=0, r=W - PLOT_RIGHT, t=PANEL_PX[0], b=H - PANEL_PX[-1], pad=0),
    paper_bgcolor="white", plot_bgcolor="white",
    showlegend=False, barmode="overlay", bargap=0,
    shapes=shapes, annotations=ann,
    font=dict(family=FONT, size=15, color="black"),
    **axes,
)

fig.write_html("out.html", config={"displayModeBar": False, "staticPlot": True},
               post_script="document.body.style.margin='0';document.body.style.overflow='hidden';")
